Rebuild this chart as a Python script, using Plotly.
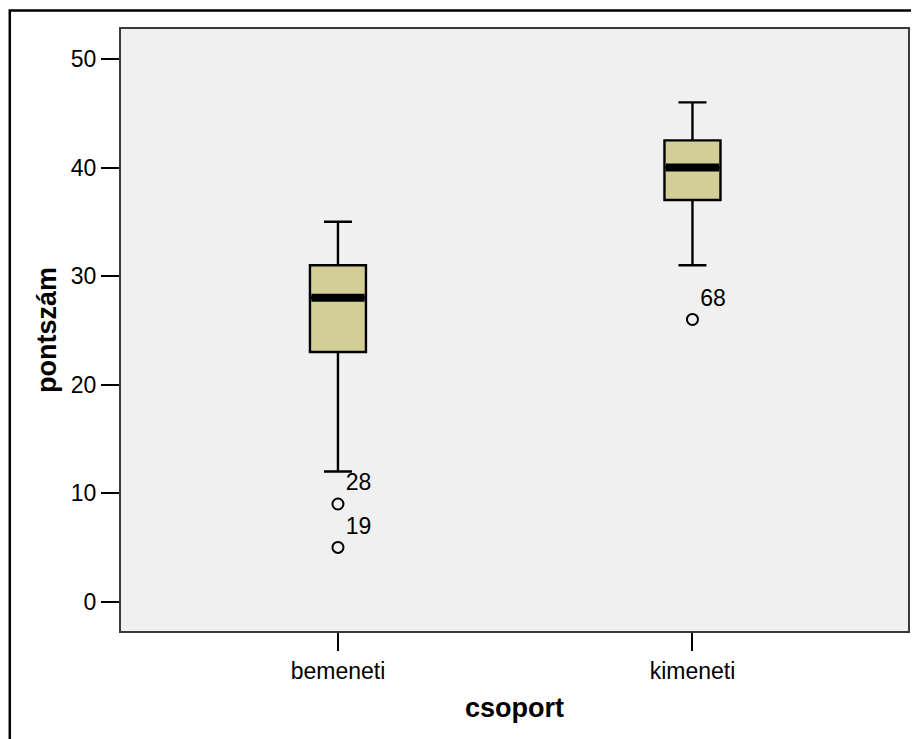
import plotly.graph_objects as go

# ---- data ----
categories = ["bemeneti", "kimeneti"]
lower_whisker = [12, 31]
q1 = [23, 37]
median = [28, 40]
q3 = [31, 42.5]
upper_whisker = [35, 46]

outlier_category = ["bemeneti", "bemeneti", "kimeneti"]
outlier_values = [9, 5, 26]
outlier_labels = ["28", "19", "68"]

y_ticks = [0, 10, 20, 30, 40, 50]

# ---- style ----
BOX_W = 0.158
FILL = "#D3CE98"
FONT = "Liberation Sans, Arial, sans-serif"

fig = go.Figure()

for i, cat in enumerate(categories):
    fig.add_trace(go.Box(
        x=[i], q1=[q1[i]], median=[median[i]], q3=[q3[i]],
        lowerfence=[lower_whisker[i]], upperfence=[upper_whisker[i]],
        width=BOX_W, whiskerwidth=0.5, fillcolor=FILL,
        line=dict(color="black", width=2.4), boxpoints=False,
        showlegend=False, hoverinfo="skip", name=cat,
    ))
    # thick median line
    fig.add_trace(go.Scatter(
        x=[i - BOX_W / 2 + 0.004, i + BOX_W / 2 - 0.004], y=[median[i], median[i]],
        mode="lines", line=dict(color="black", width=8),
        showlegend=False, hoverinfo="skip",
    ))

ox = [categories.index(c) for c in outlier_category]
fig.add_trace(go.Scatter(
    x=ox, y=outlier_values, mode="markers+text",
    text=outlier_labels, textposition="top right",
    textfont=dict(family=FONT, size=23, color="black"),
    marker=dict(symbol="circle-open", size=11, color="black", line=dict(width=2)),
    showlegend=False, hoverinfo="skip",
))

# page body has an 8px margin; compensate so the plot lands where the reference has it
L, R, T, B = 113, 9, 21, 108
W, H = 911, 731
pw, ph = W - L - R, H - T - B

fig.add_shape(type="rect", xref="paper", yref="paper",
              x0=(1.5 - L) / pw, x1=(W + 20 - L) / pw,
              y0=-(B + 20) / ph, y1=1 + (T - 2.5) / ph,
              line=dict(color="black", width=2.5), fillcolor="rgba(0,0,0,0)", layer="below")

fig.update_layout(
    width=W, height=H,
    margin=dict(l=L, r=R, t=T, b=B),
    paper_bgcolor="white", plot_bgcolor="#F0F0F0",
    font=dict(family=FONT, size=23, color="black"),
    xaxis=dict(
        range=[-0.612, 1.608], tickmode="array",
        tickvals=list(range(len(categories))), ticktext=categories,
        ticks="outside", ticklen=18, tickwidth=2, tickcolor="black",
        showgrid=False, zeroline=False,
        showline=True, linecolor="#3a3a3a", linewidth=2, mirror=True,
        tickfont=dict(size=23),
        title=dict(text="<b>csoport</b>", font=dict(size=27), standoff=16),
    ),
    yaxis=dict(
        range=[-2.70, 52.76], tickmode="array", tickvals=y_ticks,
        ticks="outside", ticklen=18, tickwidth=2, tickcolor="black",
        showgrid=False, zeroline=False,
        showline=True, linecolor="#3a3a3a", linewidth=2, mirror=True,
        tickfont=dict(size=23),
        title=dict(text="<b>pontszám</b>", font=dict(size=27), standoff=6),
    ),
)

fig.write_html("out.html")
